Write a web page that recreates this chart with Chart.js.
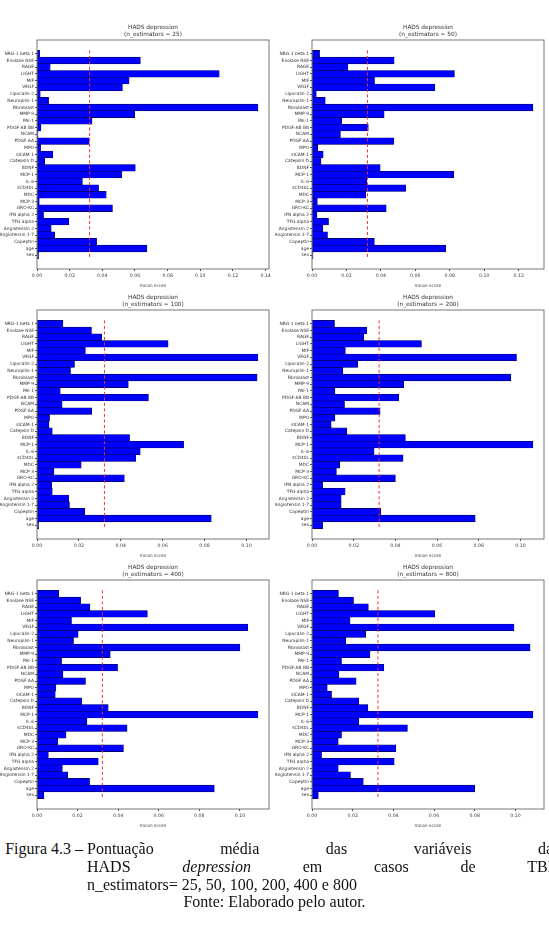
<!DOCTYPE html>
<html>
<head>
<meta charset="utf-8">
<script src="https://cdn.jsdelivr.net/npm/chart.js@4.4.1/dist/chart.umd.min.js"></script>
<style>
  body { margin: 0; width: 549px; height: 934px; overflow: hidden; background: #fff; position: relative; }
  canvas { position: absolute; }
  .cap { position: absolute; font-family: "Liberation Serif", serif; font-size: 16px; line-height: 18px; color: #111; white-space: nowrap; }
  .just { display: flex; justify-content: space-between; }
</style>
</head>
<body>
<canvas id="c0" width="275" height="274" style="left:0;top:15px"></canvas>
<canvas id="c1" width="274" height="274" style="left:275px;top:15px"></canvas>
<canvas id="c2" width="275" height="274" style="left:0;top:285px"></canvas>
<canvas id="c3" width="274" height="274" style="left:275px;top:285px"></canvas>
<canvas id="c4" width="275" height="274" style="left:0;top:555px"></canvas>
<canvas id="c5" width="274" height="274" style="left:275px;top:555px"></canvas>

<div class="cap" style="left:0;top:840px;width:83px;text-align:right">Figura 4.3 –</div>
<div class="cap just" style="left:87px;top:840px;width:466px"><span>Pontuação</span><span>média</span><span>das</span><span>variáveis</span><span>da</span></div>
<div class="cap just" style="left:87px;top:858px;width:466px"><span>HADS</span><i>depression</i><span>em</span><span>casos</span><span>de</span><span>TBI</span></div>
<div class="cap" style="left:87px;top:876px">n_estimators= 25, 50, 100, 200, 400 e 800</div>
<div class="cap" style="left:0;top:893px;width:549px;text-align:center">Fonte: Elaborado pelo autor.</div>

<script>
const features = ['NRG-1 beta 1', 'Enolase NSE', 'RAGE', 'LIGHT', 'MIF', 'VEGF', 'Lipocalin-2',
  'Neuropilin-1', 'Fibroblast', 'MMP-9', 'PAI-1', 'PDGF-AB BB', 'NCAM', 'PDGF AA', 'MPO',
  'sICAM-1', 'Catepsin D', 'BDNF', 'MCP-1', 'IL-6', 'sCD40L', 'MDC', 'MCP-3', 'GRO-KC',
  'IFN alpha 2', 'TFG alpha', 'Angiotensin 2', 'Angiotensin 1-7', 'Copeptin', 'age', 'sex']

const nEstimators = [25, 50, 100, 200, 400, 800]

// mean score per feature, top to bottom
const score25 = [0.0016, 0.0633, 0.0081, 0.1116, 0.0564, 0.0523, 0.0020, 0.0071, 0.1353, 0.0598,
  0.0337, 0.0024, 0.0006, 0.0320, 0.0022, 0.0097, 0.0047, 0.0602, 0.0519, 0.0278, 0.0377,
  0.0424, 0.0014, 0.0462, 0.0040, 0.0195, 0.0087, 0.0108, 0.0365, 0.0673, 0.0010]
const score50 = [0.0044, 0.0477, 0.0208, 0.0827, 0.0363, 0.0713, 0.0025, 0.0077, 0.1283, 0.0419,
  0.0173, 0.0327, 0.0165, 0.0475, 0.0033, 0.0065, 0.0052, 0.0396, 0.0823, 0.0319, 0.0544,
  0.0313, 0.0031, 0.0431, 0.0029, 0.0096, 0.0063, 0.0090, 0.0362, 0.0777, 0.0006]
const score100 = [0.0124, 0.0260, 0.0309, 0.0626, 0.0231, 0.1055, 0.0179, 0.0160, 0.1051, 0.0436,
  0.0111, 0.0532, 0.0120, 0.0261, 0.0060, 0.0057, 0.0073, 0.0442, 0.0700, 0.0493, 0.0472,
  0.0211, 0.0081, 0.0417, 0.0070, 0.0073, 0.0151, 0.0155, 0.0228, 0.0832, 0.0008]
const score200 = [0.0108, 0.0263, 0.0248, 0.0525, 0.0160, 0.0981, 0.0219, 0.0148, 0.0954, 0.0440,
  0.0110, 0.0416, 0.0156, 0.0327, 0.0110, 0.0092, 0.0167, 0.0448, 0.1060, 0.0298, 0.0437,
  0.0133, 0.0117, 0.0400, 0.0051, 0.0159, 0.0140, 0.0140, 0.0330, 0.0783, 0.0051]
const score400 = [0.0107, 0.0215, 0.0261, 0.0544, 0.0170, 0.1039, 0.0203, 0.0180, 0.1000, 0.0361,
  0.0121, 0.0397, 0.0128, 0.0239, 0.0093, 0.0090, 0.0220, 0.0351, 0.1089, 0.0246, 0.0444,
  0.0143, 0.0102, 0.0426, 0.0056, 0.0302, 0.0125, 0.0152, 0.0259, 0.0874, 0.0034]
const score800 = [0.0130, 0.0204, 0.0277, 0.0603, 0.0187, 0.0993, 0.0264, 0.0166, 0.1072, 0.0285,
  0.0145, 0.0353, 0.0132, 0.0217, 0.0075, 0.0096, 0.0230, 0.0275, 0.1086, 0.0230, 0.0469,
  0.0145, 0.0129, 0.0412, 0.0047, 0.0404, 0.0129, 0.0189, 0.0252, 0.0800, 0.0031]

const scores = [score25, score50, score100, score200, score400, score800]
const meanLine = [0.0322, 0.0322, 0.0322, 0.0322, 0.0322, 0.0324]
const xStep = 0.02

const font = 'DejaVu Sans'

const frame = {
  id: 'frame',
  afterDatasetsDraw(chart) {
    const { ctx, chartArea: a } = chart
    ctx.save()
    ctx.strokeStyle = '#555'
    ctx.lineWidth = 0.8
    ctx.strokeRect(a.left, a.top, a.right - a.left, a.bottom - a.top)
    ctx.restore()
  },
}

scores.forEach((vals, k) => {
  const n = features.length
  const pad = 0.05 * n
  new Chart(document.getElementById('c' + k), {
    type: 'bar',
    data: {
      datasets: [
        {
          type: 'line',
          data: [{ x: meanLine[k], y: -0.5 }, { x: meanLine[k], y: n - 0.5 }],
          borderColor: '#f03030',
          borderWidth: 1,
          borderDash: [3, 2.5],
          pointRadius: 0,
          order: 0,
        },
        {
          data: vals.map((v, i) => ({ x: v, y: i })),
          backgroundColor: '#0000ff',
          borderColor: '#000050',
          borderWidth: 0.6,
          borderSkipped: false,
          barPercentage: 1,
          categoryPercentage: 1,
          order: 1,
        },
      ],
    },
    options: {
      indexAxis: 'y',
      responsive: false,
      animation: false,
      devicePixelRatio: 1,
      layout: { padding: { left: 0, right: k % 2 ? 5 : 6, top: 0, bottom: 0 } },
      plugins: {
        legend: { display: false },
        tooltip: { enabled: false },
        title: {
          display: true,
          fullSize: false,
          text: ['HADS depression', '(n_estimators = ' + nEstimators[k] + ')'],
          color: '#333',
          font: { family: font, size: 5.8, weight: 'normal', lineHeight: 1.25 },
          padding: { top: 8.5, bottom: 2 },
        },
      },
      scales: {
        x: {
          type: 'linear',
          min: 0,
          max: Math.max(...vals) * 1.05,
          afterFit: (s) => { s.height = 20 },
          border: { display: false },
          grid: { drawOnChartArea: false, tickLength: 2, color: '#555' },
          ticks: {
            stepSize: xStep,
            includeBounds: false,
            padding: 1.5,
            color: '#444',
            font: { family: font, size: 4.7 },
            callback: (v) => v.toFixed(2),
          },
          title: {
            display: true,
            text: 'mean score',
            color: '#444',
            font: { family: font, size: 4.6 },
            padding: { top: 1, bottom: 0 },
          },
        },
        y: {
          type: 'linear',
          reverse: true,
          offset: false,
          min: -0.5 - pad,
          max: n - 0.5 + pad,
          afterFit: (s) => { s.width = 37 },
          afterBuildTicks: (s) => { s.ticks = features.map((f, i) => ({ value: i })) },
          border: { display: false },
          grid: { offset: false, drawOnChartArea: false, tickLength: 2, color: '#555' },
          ticks: {
            autoSkip: false,
            padding: 1,
            color: '#333',
            font: { family: font, size: 4.4 },
            callback: (v) => features[v],
          },
        },
      },
    },
    plugins: [frame],
  })
})
</script>
</body>
</html>
